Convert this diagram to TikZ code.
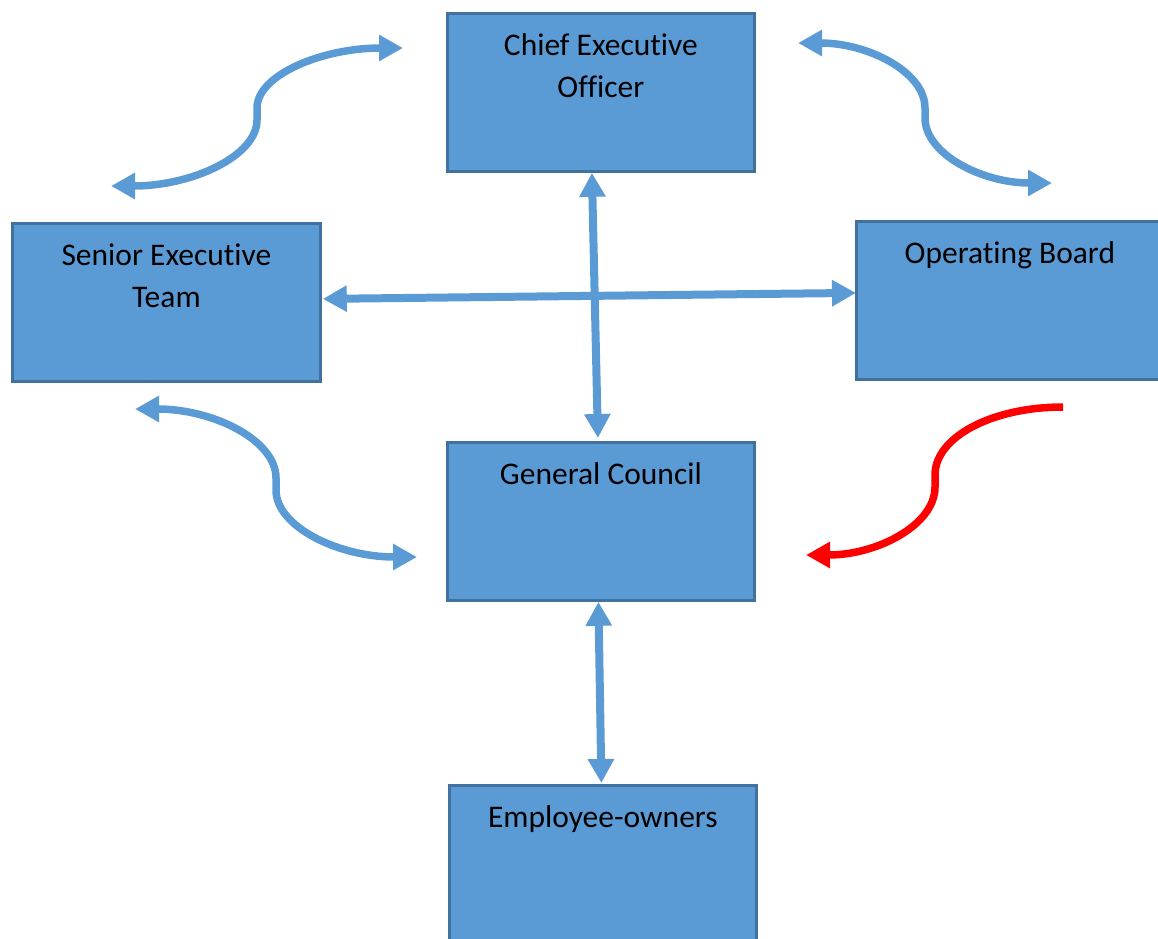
\documentclass[tikz,border=0pt]{standalone}
\usepackage{fontspec}
\setmainfont{Carlito}[Ligatures=NoCommon]
\usetikzlibrary{arrows.meta,calc}

\definecolor{boxfill}{HTML}{5B9BD5}
\definecolor{boxline}{HTML}{41719C}
\definecolor{linkblue}{HTML}{5B9BD5}
\definecolor{linkred}{HTML}{FF0000}

% box text: top-aligned, centred lines, first baseline 42pt below the top edge
\newcommand\orgtext[2][307pt]{\parbox[c][158pt][t]{#1}{\centering\rule{0pt}{42pt}#2}}

\tikzset{
  >={Triangle[length=24pt,width=25pt]},
  orgbox/.style={draw=boxline, fill=boxfill, line width=2.8pt, inner sep=0pt,
    anchor=north west, font=\fontsize{31.5}{42}\selectfont},
  biarrow/.style={draw=linkblue, line width=8pt, <->},
  bicurve/.style={draw=linkblue, line width=7.5pt, <->},
  redcurve/.style={draw=linkred, line width=7.5pt, ->},
}

\begin{document}
\begin{tikzpicture}[x=1pt,y=-1pt]
  \useasboundingbox (0,0) rectangle (1158,938);

  % organisation boxes
  \node[orgbox] (ceo) at (446,12)  {\orgtext{Chief Executive\\Officer}};
  \node[orgbox] (set) at (11,222)  {\orgtext[308pt]{Senior Executive\\Team}};
  \node[orgbox] (ob)  at (855,220) {\orgtext[307pt]{Operating Board}};
  \node[orgbox] (gc)  at (446,441) {\orgtext{General Council}};
  \node[orgbox] (eo)  at (448,784) {\orgtext{Employee-owners}};

  % straight two-way links
  \draw[biarrow] ($(ceo.south)+(-9,0)$) -- ($(gc.north)+(-3,-3)$);
  \draw[biarrow] ($(set.east)+(1,-3.5)$) -- ($(ob.west)+(1,-7.5)$);
  \draw[biarrow] ($(gc.south)+(-2.5,0)$) -- ($(eo.north)+(-1.5,-1)$);

  % ends of the curved links
  \coordinate (tlA) at (111,186);
  \coordinate (tlB) at (403,48);
  \coordinate (trA) at (798,43);
  \coordinate (trB) at (1052,183);
  \coordinate (blA) at (135,409);
  \coordinate (blB) at (417,557);
  \coordinate (rdA) at (1063,407);
  \coordinate (rdB) at (806,555);

  % curved two-way links
  \draw[bicurve] (tlA) .. controls (192,186) and (257,156) .. (257,120)
    -- (257,108) .. controls (257,75) and (322,48) .. (tlB);
  \draw[bicurve] (trA) .. controls (868,43) and (925,72) .. (925,108)
    -- (925,118) .. controls (925,154) and (982,183) .. (trB);
  \draw[bicurve] (blA) .. controls (213,409) and (276,440) .. (276,478)
    -- (276,490) .. controls (276,527) and (339,557) .. (blB);

  % one-way link into the General Council
  \draw[redcurve] (rdA) .. controls (992,407) and (935,437) .. (935,475)
    -- (935,487) .. controls (935,525) and (877,555) .. (rdB);
\end{tikzpicture}
\end{document}
